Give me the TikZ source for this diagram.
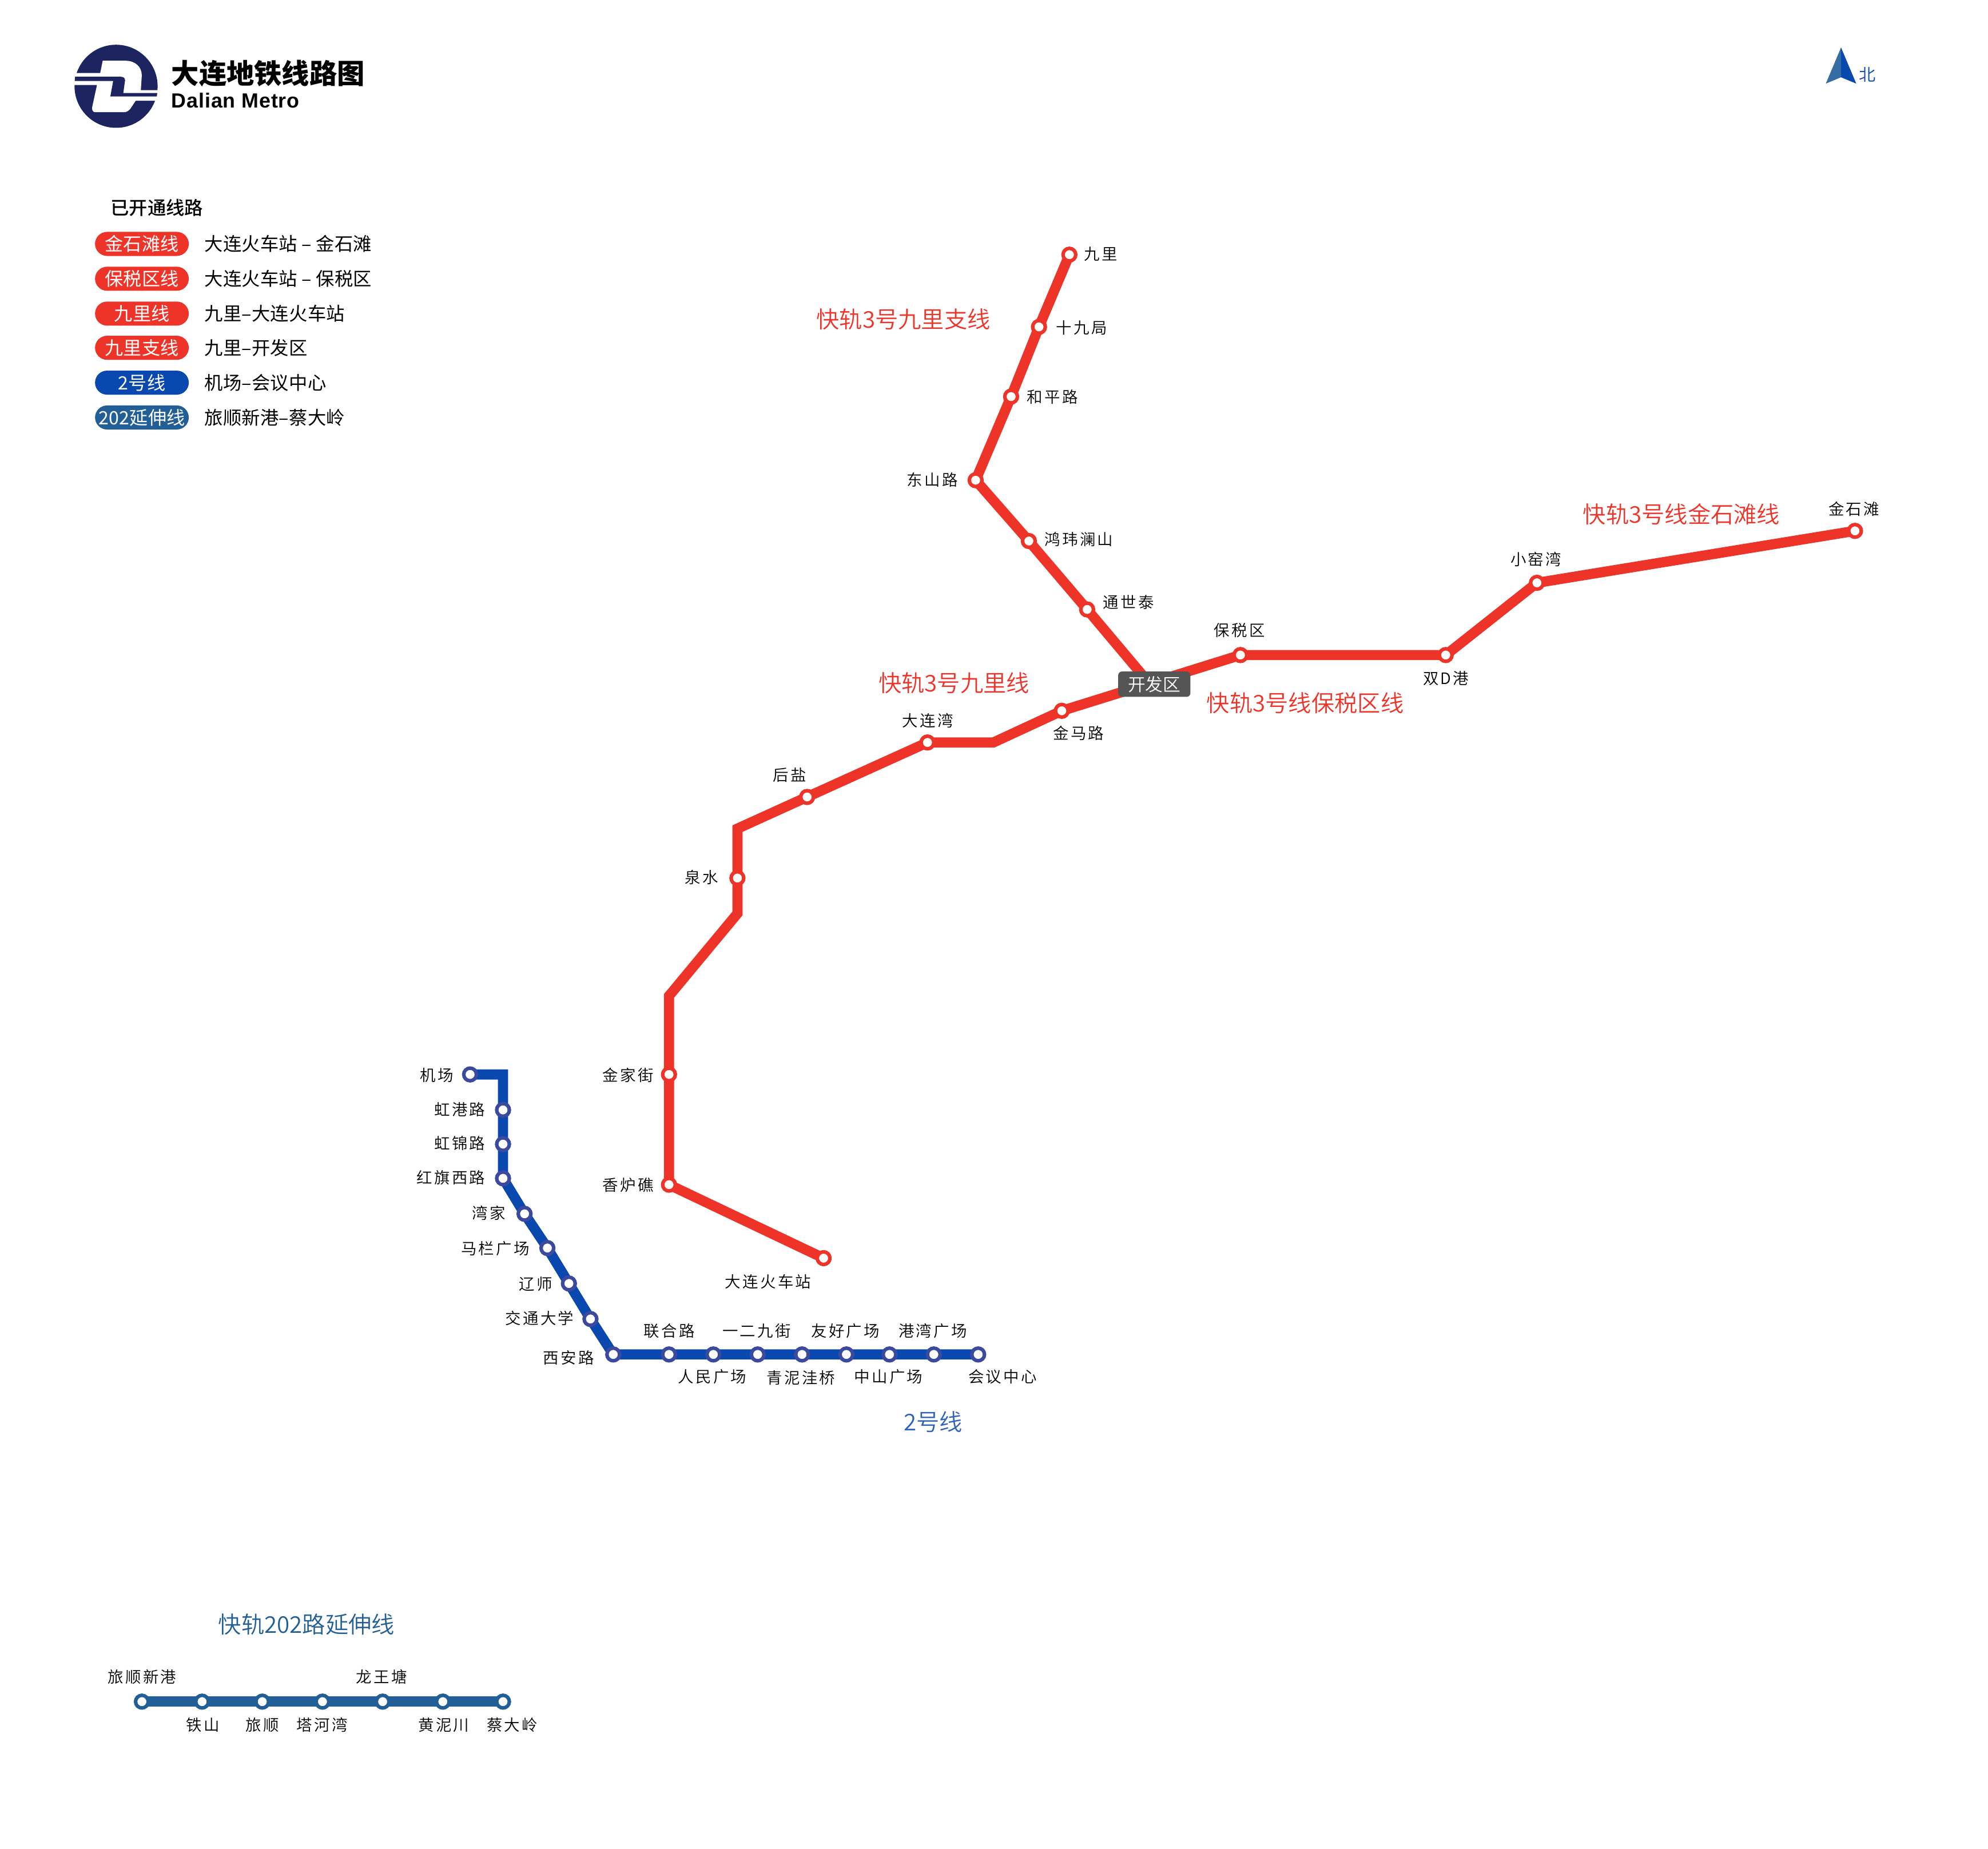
\documentclass[tikz,border=0pt]{standalone}
\usepackage{fontspec}
\setmainfont{Noto Sans CJK SC}[UprightFont=* DemiLight,BoldFont=* Black]
\newfontfamily\stnfont{Noto Sans CJK SC}[UprightFont=* DemiLight,LetterSpace=12]
\newfontfamily\legfont{Noto Sans CJK SC}[LetterSpace=1]
\newfontfamily\headfont{Noto Sans CJK SC}[UprightFont=* Medium]
\newfontfamily\latnfont{Liberation Sans}[BoldFont=* Bold,LetterSpace=2.5]
\usetikzlibrary{backgrounds}
\definecolor{RedClr}{HTML}{EE3329}
\definecolor{BlueClr}{HTML}{0948AE}
\definecolor{BlueRing}{HTML}{3B4A9F}
\definecolor{ExtClr}{HTML}{215F96}
\definecolor{NavyClr}{HTML}{1E2460}
\definecolor{BoxClr}{HTML}{555555}

\tikzset{
  stn/.style={circle,draw=#1,fill=white,line width=.056cm,minimum size=.2cm,inner sep=0pt,outer sep=0pt},
  rail/.style={line width=.16cm,color=#1},
  stntxt/.style={inner sep=0pt,text=black,xshift=-.016cm,yshift=.01cm,font=\stnfont\fontsize{7.05}{8}\selectfont},
  linetxt/.style={inner sep=0pt,text=#1,font=\fontsize{10.35}{12}\selectfont},
  pill/.style={rounded corners=.19cm,fill=#1,text=white,minimum width=1.48cm,minimum height=.38cm,inner sep=0pt,font=\legfont\fontsize{8.25}{10}\selectfont},
  legtxt/.style={inner sep=0pt,anchor=west,text=black,font=\legfont\fontsize{8.3}{10}\selectfont}
}

\begin{document}
\begin{tikzpicture}[x=.02cm,y=-.02cm]
\useasboundingbox (-1,-1) rectangle (1568,1458);

% logo
\begin{scope}[shift={(53,30.7)},scale=.1504]
\fill[NavyClr] (250,242) circle (218);
\fill[white] (180,108) -- (300,108) .. controls (350,108) and (385,140) .. (385,185)
  -- (380,262) -- (470,262) -- (470,318) -- (353,318) -- (325,360)
  .. controls (315,372) and (305,378) .. (290,378) -- (140,378)
  .. controls (128,378) and (122,365) .. (125,350) -- (150,235) -- (30,235) -- (30,172) -- (167,172) -- cycle;
\fill[NavyClr] (35,192) -- (275,192) .. controls (290,192) and (298,200) .. (297,212)
  -- (288,277) -- (466,277) -- (464,295) -- (220,295) -- (235,214) -- (33,214) -- cycle;
\end{scope}
\node[inner sep=0pt,anchor=west,font=\bfseries\fontsize{12.4}{14}\selectfont] (maptitle) at (134,57) {大连地铁线路图};
\node[inner sep=0pt,anchor=west,font=\latnfont\bfseries\fontsize{9.2}{10}\selectfont] (maptitlelat) at (134,78.5) {Dalian Metro};

% north
\fill[color=ExtClr!85!BlueClr!90!white] (1452,36.5) -- (1440,65) -- (1452,60) -- cycle;
\fill[BlueClr] (1452,36.5) -- (1464,65) -- (1452,60) -- cycle;
\node[inner sep=0pt,text=BlueClr,font=\fontsize{7.5}{9}\selectfont] (north) at (1473,58) {北};

% legend
\node[legtxt,font=\headfont\fontsize{8.3}{10}\selectfont] (legtitle) at (86,163) {已开通线路};
\foreach \leg/\y/\clr/\tagtxt/\endtxt in {
  jst/191.5/RedClr/金石滩线/大连火车站 {}– {}金石滩,
  bsq/219/RedClr/保税区线/大连火车站 {}– {}保税区,
  jl/246.5/RedClr/九里线/九里–大连火车站,
  jlz/273.5/RedClr/九里支线/九里–开发区,
  two/301/BlueClr/2号线/机场–会议中心,
  ext/328.5/ExtClr/202延伸线/旅顺新港–蔡大岭}{
  \node[pill=\clr] (pill\leg) at (111,\y) {\tagtxt};
  \node[legtxt] (txt\leg) at (160,\y) {\endtxt};
}

% red line
\foreach \stnname/\x/\y/\lx/\ly/\anc/\txt in {
  jiuli/843/200/855/200/west/九里,
  shijiu/819/257/833/258/west/十九局,
  heping/797/312/810/313/west/和平路,
  dongshan/769/378/756/378/east/东山路,
  hongwei/811/426/824/425/west/鸿玮澜山,
  tongshi/857/480/870/475/west/通世泰,
  baoshui/978/516/978/497/center/保税区,
  shuangd/1140/516/1141/535/center/双D港,
  xiaoyao/1212/459/1212/441/center/小窑湾,
  jinshi/1463/418/1463/401/center/金石滩,
  jinma/837/560/851/578/center/金马路,
  dalianw/731/585/732/568/center/大连湾,
  houyan/636/628/623/611/center/后盐,
  quanshui/581/692/567/692/east/泉水,
  jinjia/527/847/516/848/east/金家街,
  xianglu/527/934/516/935/east/香炉礁,
  dalianst/649/992/606/1011/center/大连火车站}{
  \node[stn=RedClr] (\stnname) at (\x,\y) {};
  \node[stntxt,anchor=\anc] (\stnname txt) at (\lx,\ly) {\txt};
}
\coordinate (kfjoin) at (905,537);
\coordinate (bendA) at (783,585);
\coordinate (bendB) at (581,653);
\coordinate (bendC) at (581,720);
\coordinate (bendD) at (527,785);
\node[fill=BoxClr,rounded corners=.06cm,text=white,minimum width=1.14cm,minimum height=.4cm,inner sep=0pt,font=\fontsize{7.9}{9}\selectfont] (kaifa) at (910,539) {开发区};

% line 2
\foreach \stnname/\x/\y/\lx/\ly/\anc/\txt in {
  jichang/370/847/358/848/east/机场,
  honggang/396/875/383/875/east/虹港路,
  hongjin/396/902/383/902/east/虹锦路,
  hongqi/396/929/383/929/east/红旗西路,
  wanjia/413/957/399/957/east/湾家,
  malan/431/984/418/985/east/马栏广场,
  liaoshi/448/1012/436/1013/east/辽师,
  jiaotong/465/1040/453/1040/east/交通大学,
  xian/483/1068/469/1071/east/西安路,
  lianhe/527/1068/528/1050/center/联合路,
  renmin/562/1068/562/1086/center/人民广场,
  yierjiu/597/1068/597/1050/center/一二九街,
  qingni/632/1068/632/1087/center/青泥洼桥,
  youhao/667/1068/667/1050/center/友好广场,
  zhongshan/701/1068/701/1086/center/中山广场,
  gangwan/736/1068/736/1050/center/港湾广场,
  huiyi/771/1068/791/1086/center/会议中心}{
  \node[stn=BlueRing] (\stnname) at (\x,\y) {};
  \node[stntxt,anchor=\anc] (\stnname txt) at (\lx,\ly) {\txt};
}
\coordinate (bendE) at (396,847);

% line 202
\foreach \stnname/\x/\lx/\ly/\txt in {
  lvxin/111/112/1323/旅顺新港,
  tieshan/158.5/160/1361/铁山,
  lvshun/206/207/1361/旅顺,
  tahe/253.5/254/1361/塔河湾,
  longwang/301/301/1323/龙王塘,
  huangni/348.5/350/1361/黄泥川,
  caida/396/404/1361/蔡大岭}{
  \node[stn=ExtClr] (\stnname) at (\x,1342) {};
  \node[stntxt] (\stnname txt) at (\lx,\ly) {\txt};
}

\begin{scope}[on background layer]
\draw[rail=RedClr] (jiuli.center) -- (shijiu.center) -- (heping.center) -- (dongshan.center) -- (hongwei.center) -- (tongshi.center) -- (kfjoin);
\draw[rail=RedClr] (jinshi.center) -- (xiaoyao.center) -- (shuangd.center) -- (baoshui.center) -- (jinma.center) -- (bendA) -- (dalianw.center) -- (houyan.center) -- (bendB) -- (quanshui.center) -- (bendC) -- (bendD) -- (jinjia.center) -- (xianglu.center) -- (dalianst.center);
\draw[rail=BlueClr] (jichang.center) -- (bendE) -- (honggang.center) -- (hongjin.center) -- (hongqi.center) -- (wanjia.center) -- (malan.center) -- (liaoshi.center) -- (jiaotong.center) -- (xian.center) -- (lianhe.center) -- (renmin.center) -- (yierjiu.center) -- (qingni.center) -- (youhao.center) -- (zhongshan.center) -- (gangwan.center) -- (huiyi.center);
\draw[rail=ExtClr] (lvxin.center) -- (tieshan.center) -- (lvshun.center) -- (tahe.center) -- (longwang.center) -- (huangni.center) -- (caida.center);
\end{scope}

% line names
\node[linetxt=RedClr,anchor=west] (namejlz) at (643,251) {快轨3号九里支线};
\node[linetxt=RedClr,anchor=west] (namejl) at (692,538) {快轨3号九里线};
\node[linetxt=RedClr,anchor=west] (namejst) at (1248,405) {快轨3号线金石滩线};
\node[linetxt=RedClr,anchor=west] (namebsq) at (951,554) {快轨3号线保税区线};
\node[linetxt=BlueClr!85!white,anchor=west] (nametwo) at (712,1121) {2号线};
\node[linetxt=ExtClr,anchor=west] (nameext) at (171,1281) {快轨202路延伸线};

\end{tikzpicture}
\end{document}
